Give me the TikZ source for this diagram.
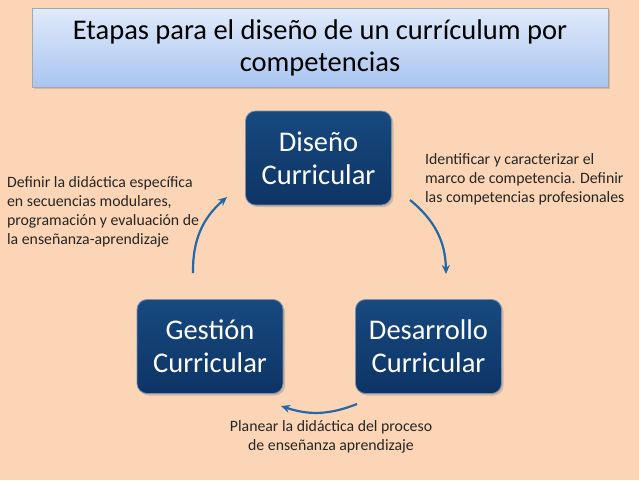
\documentclass[tikz,border=0pt]{standalone}
\usepackage{fontspec}
\setmainfont{Carlito}
\usetikzlibrary{arrows.meta, positioning, shadows}

\definecolor{fondo}{HTML}{FBD5B5}
\definecolor{azulcaja}{HTML}{17497F}
\definecolor{azulosc}{HTML}{0E3465}
\definecolor{flecha}{HTML}{2369A8}
\definecolor{texto}{HTML}{262626}
\definecolor{tituloarr}{HTML}{E0EAFA}
\definecolor{tituloab}{HTML}{A9C5F0}

\begin{document}
\begin{tikzpicture}[
            x = 1pt, y = -1pt, % pixel coordinates
            > = {Stealth[length=9pt, width=8pt]}, % arrow head style
            line width = 2.2pt,
            font = \color{texto}
        ]

        \tikzstyle{etapa}=[
            rectangle,
            rounded corners = 10pt,
            draw = azulcaja!60!white,
            line width = 0.8pt,
            top color = azulcaja,
            bottom color = azulosc,
            minimum width = 146pt,
            minimum height = 94pt,
            align = center,
            text = white,
            font = \fontsize{28.5}{33}\selectfont,
            drop shadow = {shadow xshift=2pt, shadow yshift=-2pt, opacity=0.35}
        ]
        \tikzstyle{nota}=[
            align = left,
            inner sep = 0pt,
            text = texto,
            font = \fontsize{15.8}{19.3}\selectfont
        ]
        \tikzstyle{giro}=[
            ->,
            draw = flecha
        ]

        \fill[fondo] (0,0) rectangle (639,480);
        \useasboundingbox (0,0) rectangle (639,480);

        % title
        \node (titulo) [rectangle, draw = gray!70, line width = 0.8pt,
            top color = tituloarr, bottom color = tituloab,
            minimum width = 576pt, minimum height = 79pt, align = center,
            font = \fontsize{28.5}{32}\selectfont,
            drop shadow = {shadow xshift=2pt, shadow yshift=-2pt, opacity=0.3}]
            at (320,47.5) {Etapas para el diseño de un currículum por\\competencias};

        % stages
        \node[etapa] (diseno) at (318.5,158) {Diseño\\Curricular};
        \node[etapa] (gestion) at (210,346.5) {Gestión\\Curricular};
        \node[etapa] (desarrollo) at (428.5,346.5) {Desarrollo\\Curricular};

        % notes
        \node[nota, anchor = north west] (nota1) at (424,152) {Identificar y caracterizar el\\marco de competencia. Definir\\las competencias profesionales};
        \node[nota, anchor = north west] (nota3) at (6,175) {Definir la didáctica específica\\en secuencias modulares,\\programación y evaluación de\\la enseñanza-aprendizaje};
        \node[nota, align = center, anchor = north] (nota2) at (331,419) {Planear la didáctica del proceso\\de enseñanza aprendizaje};

        % arrows
        \coordinate (a1) at (410,200);
        \coordinate (b1) at (446,274);
        \coordinate (a2) at (357,404);
        \coordinate (b2) at (281,406);
        \coordinate (a3) at (193,273);
        \coordinate (b3) at (227,197);

        \draw[giro] (a1) to[bend left = 25] (b1);
        \draw[giro] (a2) to[bend left = 20] (b2);
        \draw[giro] (a3) to[bend left = 25] (b3);
    \end{tikzpicture}
\end{document}
